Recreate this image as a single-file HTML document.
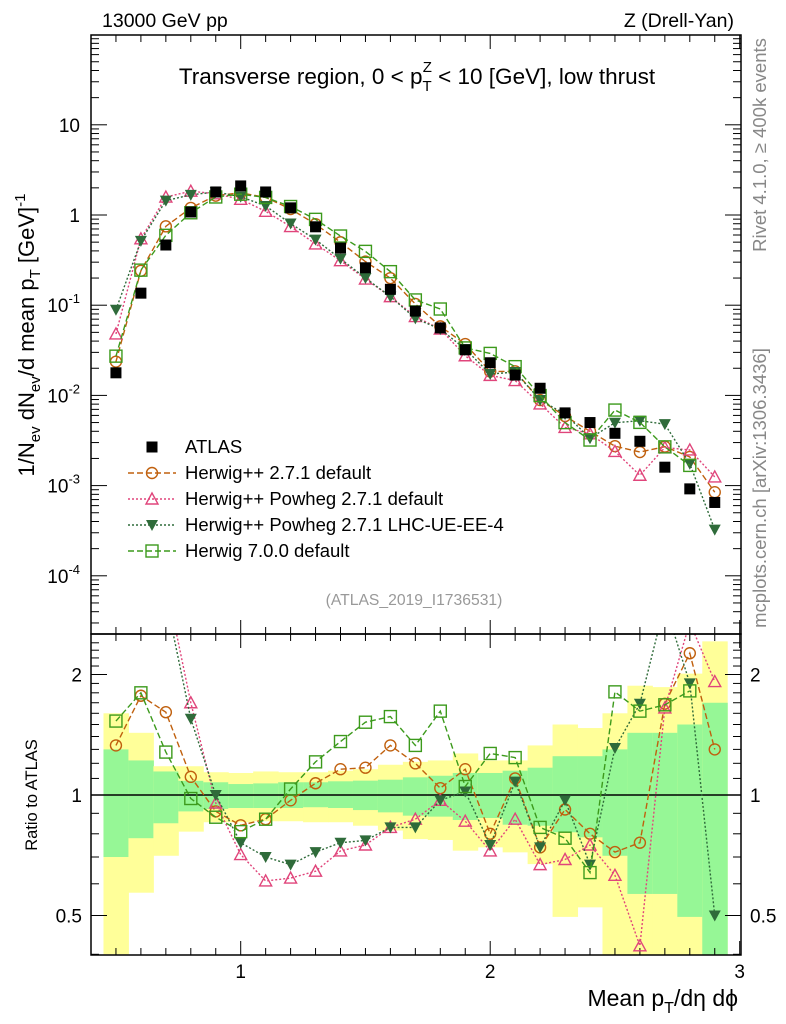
<!DOCTYPE html>
<html><head><meta charset="utf-8"><style>
html,body{margin:0;padding:0;background:#fff;overflow:hidden;}
svg{display:block;}
svg text{font-family:"Liberation Sans",sans-serif;}
</style></head><body>
<svg id="chart" width="786" height="1024" viewBox="0 0 786 1024" xmlns="http://www.w3.org/2000/svg">
<defs>
<clipPath id="clipMain"><rect x="91" y="35" width="650" height="599"/></clipPath>
<clipPath id="clipRatio"><rect x="91" y="634" width="650" height="321"/></clipPath>
</defs>
<g id="bands" clip-path="url(#clipRatio)"></g>
<g id="ticks"></g>
<g id="series-main" clip-path="url(#clipMain)"></g>
<g id="series-ratio" clip-path="url(#clipRatio)"></g>
<rect x="91" y="35" width="650" height="599" fill="none" stroke="#000" stroke-width="1.5"/>
<rect x="91" y="634" width="650" height="321" fill="none" stroke="#000" stroke-width="1.5"/>
<text x="102" y="27" font-size="19.5">13000 GeV pp</text>
<text x="734" y="27" font-size="19.5" text-anchor="end">Z (Drell-Yan)</text>
<text x="417" y="84" font-size="22.5" text-anchor="middle">Transverse region, 0 &lt; p<tspan font-size="15" dy="7">T</tspan><tspan font-size="15" dx="-9" dy="-19">Z</tspan><tspan dy="12"> &lt; 10 [GeV], low thrust</tspan></text>
<text transform="translate(34,335) rotate(-90)" font-size="22" text-anchor="middle">1/N<tspan font-size="15" dy="6">ev</tspan><tspan dy="-6"> dN</tspan><tspan font-size="15" dy="6">ev</tspan><tspan dy="-6">/d mean p</tspan><tspan font-size="15" dy="6">T</tspan><tspan dy="-6"> [GeV]</tspan><tspan font-size="15" dy="-9">-1</tspan></text>
<text transform="translate(37,795) rotate(-90)" font-size="16.5" text-anchor="middle">Ratio to ATLAS</text>
<text x="738" y="1006" font-size="23" text-anchor="end">Mean p<tspan font-size="16" dy="7">T</tspan><tspan dy="-7">/dη dϕ</tspan></text>
<text transform="translate(766,145) rotate(-90)" font-size="18.5" fill="#888" text-anchor="middle">Rivet 4.1.0, ≥ 400k events</text>
<text transform="translate(766,488) rotate(-90)" font-size="18.5" fill="#888" text-anchor="middle">mcplots.cern.ch [arXiv:1306.3436]</text>
<text x="414" y="605" font-size="15.7" fill="#999" text-anchor="middle">(ATLAS_2019_I1736531)</text>
<g id="legend"></g>
</svg>
<script>
// ---- data ----
const xVals=[0.5,0.6,0.7,0.8,0.9,1.0,1.1,1.2,1.3,1.4,1.5,1.6,1.7,1.8,1.9,2.0,2.1,2.2,2.3,2.4,2.5,2.6,2.7,2.8,2.9];
const atlasVals=[0.0178,0.136,0.465,1.08,1.8,2.1,1.8,1.2,0.74,0.43,0.26,0.15,0.086,0.056,0.032,0.023,0.0168,0.012,0.0064,0.0050,0.0038,0.0031,0.0016,0.00092,0.00065];
const ratioHerwig271=[1.33,1.77,1.61,1.11,0.91,0.84,0.87,0.97,1.07,1.16,1.17,1.33,1.20,1.04,1.16,0.80,1.10,0.74,0.92,0.80,0.72,0.76,1.69,2.26,1.30];
const ratioPowheg=[2.7,4.0,3.4,1.70,0.955,0.71,0.61,0.62,0.645,0.725,0.75,0.83,0.87,0.97,0.86,0.725,0.87,0.67,0.69,0.75,0.63,0.42,1.65,2.7,1.92];
const ratioPowhegUE=[5.0,3.8,3.1,1.55,1.0,0.76,0.70,0.67,0.72,0.76,0.77,0.83,0.83,0.97,1.02,0.75,1.08,0.74,0.97,0.67,1.31,1.69,3.0,1.90,0.50];
const ratioHerwig700=[1.53,1.80,1.28,0.98,0.88,0.81,0.87,1.035,1.21,1.36,1.52,1.57,1.33,1.62,1.05,1.27,1.24,0.83,0.78,0.64,1.81,1.62,1.68,1.82,null];
const bandYellowUp=[1.60,1.43,1.18,1.18,1.14,1.135,1.145,1.14,1.14,1.15,1.16,1.19,1.21,1.22,1.27,1.22,1.22,1.33,1.50,1.47,1.60,1.875,1.86,2.01,2.42];
const bandGreenUp=[1.30,1.22,1.145,1.085,1.076,1.065,1.069,1.076,1.076,1.082,1.086,1.092,1.107,1.117,1.135,1.135,1.15,1.17,1.25,1.25,1.30,1.43,1.43,1.50,1.70];
const bandGreenDn=[0.70,0.78,0.85,0.91,0.923,0.928,0.928,0.928,0.932,0.928,0.917,0.905,0.888,0.883,0.866,0.876,0.843,0.838,0.807,0.784,0.705,0.566,0.566,0.496,0.3];
const bandYellowDn=[0.40,0.57,0.705,0.81,0.855,0.855,0.86,0.86,0.855,0.855,0.838,0.815,0.776,0.772,0.726,0.74,0.719,0.672,0.496,0.524,0.3,0.3,0.3,0.3,0.3];
const binWidth=0.1;
const yMainTicks=[10,1,0.1,0.01,0.001,0.0001];
const yMainTickLabels=["10","1","10^-1","10^-2","10^-3","10^-4"];
const yRatioTicks=[0.5,1,2];
const yRatioTickLabels=["0.5","1","2"];
const xTicks=[1,2,3];
const xTickLabels=["1","2","3"];

// ---- axes ----
const X=v=>91+(v-0.4)*249.5;
const Ym=v=>215-90.2*Math.log10(v);
const Yr=r=>795-120.5*Math.log2(r);
const NS="http://www.w3.org/2000/svg";
function mk(tag,attrs,parent){const e=document.createElementNS(NS,tag);for(const k in attrs)e.setAttribute(k,attrs[k]);parent.appendChild(e);return e;}

// bands
const gb=document.getElementById('bands');
xVals.forEach((x,i)=>{
  const x0=X(x-binWidth/2),w=X(x+binWidth/2)-x0;
  const ry=mk('rect',{x:x0,y:Yr(bandYellowUp[i]),width:w+0.5,height:Yr(bandYellowDn[i])-Yr(bandYellowUp[i]),fill:'#ffff99'},gb);
  
  
  const rg=mk('rect',{x:x0,y:Yr(bandGreenUp[i]),width:w+0.5,height:Yr(bandGreenDn[i])-Yr(bandGreenUp[i]),fill:'#96f796'},gb);
  
  
});
const ul=mk('line',{x1:91,x2:741,y1:Yr(1),y2:Yr(1),stroke:'#000','stroke-width':1.5},gb);



// ticks
const gt=document.getElementById('ticks');
function tick(x1,y1,x2,y2){mk('line',{x1,y1,x2,y2,stroke:'#000','stroke-width':1},gt);}
for(let v=0.4;v<=3.001;v+=0.1){
  const major=Math.abs(v-Math.round(v))<0.001;const L=major?14:7;const x=X(v);
  tick(x,634,x,634-L);tick(x,35,x,35+L);tick(x,955,x,955-L);tick(x,634,x,634+L);
}
for(let d=-5;d<=1;d++){for(let m=1;m<=9;m++){const v=m*Math.pow(10,d);const y=Ym(v);if(y<35||y>634)continue;const L=m==1?16:8;tick(91,y,91+L,y);tick(741,y,741-L,y);}}
for(let r=0.4;r<=2.5;r+=0.1){const y=Yr(r);if(y<634||y>955)continue;const major=[0.5,1,2].some(t=>Math.abs(t-r)<0.001);const L=major?16:8;tick(91,y,91+L,y);tick(741,y,741-L,y);}
yMainTicks.forEach((v,i)=>{
  const lab=yMainTickLabels[i];const t=mk('text',{x:80,y:Ym(v)+7,'font-size':19,'text-anchor':'end'},gt);
  
  
  if(lab.includes('^')){const [b,e]=lab.split('^');t.textContent=b;const s=mk('tspan',{'font-size':13,dy:-9},t);s.textContent=e;}else t.textContent=lab;
});
yRatioTicks.forEach((v,i)=>{
  [[82,'end'],[750,'start']].forEach(([x,a])=>{const t=mk('text',{x,y:Yr(v)+7,'font-size':19,'text-anchor':a},gt);t.textContent=yRatioTickLabels[i];
  
  });
});
xTicks.forEach((v,i)=>{const t=mk('text',{x:X(v),y:978,'font-size':19,'text-anchor':'middle'},gt);t.textContent=xTickLabels[i];
  
  });

// markers
function marker(g,type,x,y,c){
  if(type==='sq')return mk('rect',{x:x-5.5,y:y-5.5,width:11,height:11,fill:'#000'},g);
  if(type==='circ')return mk('circle',{cx:x,cy:y,r:5.5,fill:'none',stroke:c,'stroke-width':1.4},g);
  if(type==='tri')return mk('polygon',{points:`${x},${y-6} ${x-6},${y+5} ${x+6},${y+5}`,fill:'none',stroke:c,'stroke-width':1.4},g);
  if(type==='dtri')return mk('polygon',{points:`${x-6},${y-5} ${x+6},${y-5} ${x},${y+6}`,fill:c},g);
  if(type==='osq')return mk('rect',{x:x-6,y:y-6,width:12,height:12,fill:'none',stroke:c,'stroke-width':1.4},g);
}
const series=[
 {name:'herwig-271',ratio:ratioHerwig271,c:'#c0600e',m:'circ',dash:'6,3'},
 {name:'powheg-default',ratio:ratioPowheg,c:'#e0457b',m:'tri',dash:'2,2'},
 {name:'powheg-lhc-ue',ratio:ratioPowhegUE,c:'#2f6b3a',m:'dtri',dash:'2,2'},
 {name:'herwig-700',ratio:ratioHerwig700,c:'#3c9a1c',m:'osq',dash:'6,3'}
];
const gm=document.getElementById('series-main'),gr=document.getElementById('series-ratio');
series.forEach(s=>{
  const g1=mk('g',{},gm);
  const g2=mk('g',{},gr);
  const idx=xVals.map((x,i)=>i).filter(i=>s.ratio[i]!==null);
  const ptsM=idx.map(i=>X(xVals[i])+','+Ym(atlasVals[i]*s.ratio[i])).join(' ');
  const ptsR=idx.map(i=>X(xVals[i])+','+Yr(s.ratio[i])).join(' ');
  mk('polyline',{points:ptsM,fill:'none',stroke:s.c,'stroke-width':1.4,'stroke-dasharray':s.dash},g1);
  mk('polyline',{points:ptsR,fill:'none',stroke:s.c,'stroke-width':1.4,'stroke-dasharray':s.dash},g2);
  idx.forEach(i=>{
    const x=xVals[i];
    const a=marker(g1,s.m,X(x),Ym(atlasVals[i]*s.ratio[i]),s.c);
    
    
    const b=marker(g2,s.m,X(x),Yr(s.ratio[i]),s.c);
    
    
  });
});
const ga=mk('g',{},gm);
xVals.forEach((x,i)=>{const p=marker(ga,'sq',X(x),Ym(atlasVals[i]));
  
  });

// legend
const gl=document.getElementById('legend');
const legendLabels=['ATLAS','Herwig++ 2.7.1 default','Herwig++ Powheg 2.7.1 default','Herwig++ Powheg 2.7.1 LHC-UE-EE-4','Herwig 7.0.0 default'];
legendLabels.forEach((lab,i)=>{
  const y=447+i*26;
  const g=mk('g',{},gl);
  
  
  if(i===0)marker(g,'sq',152,y);
  else{const s=series[i-1];mk('line',{x1:128,x2:176,y1:y,y2:y,stroke:s.c,'stroke-width':1.4,'stroke-dasharray':s.dash},g);marker(g,s.m,152,y,s.c);}
  const t=mk('text',{x:185,y:y+6,'font-size':18.5},g);t.textContent=lab;
});
</script>
</body></html>
